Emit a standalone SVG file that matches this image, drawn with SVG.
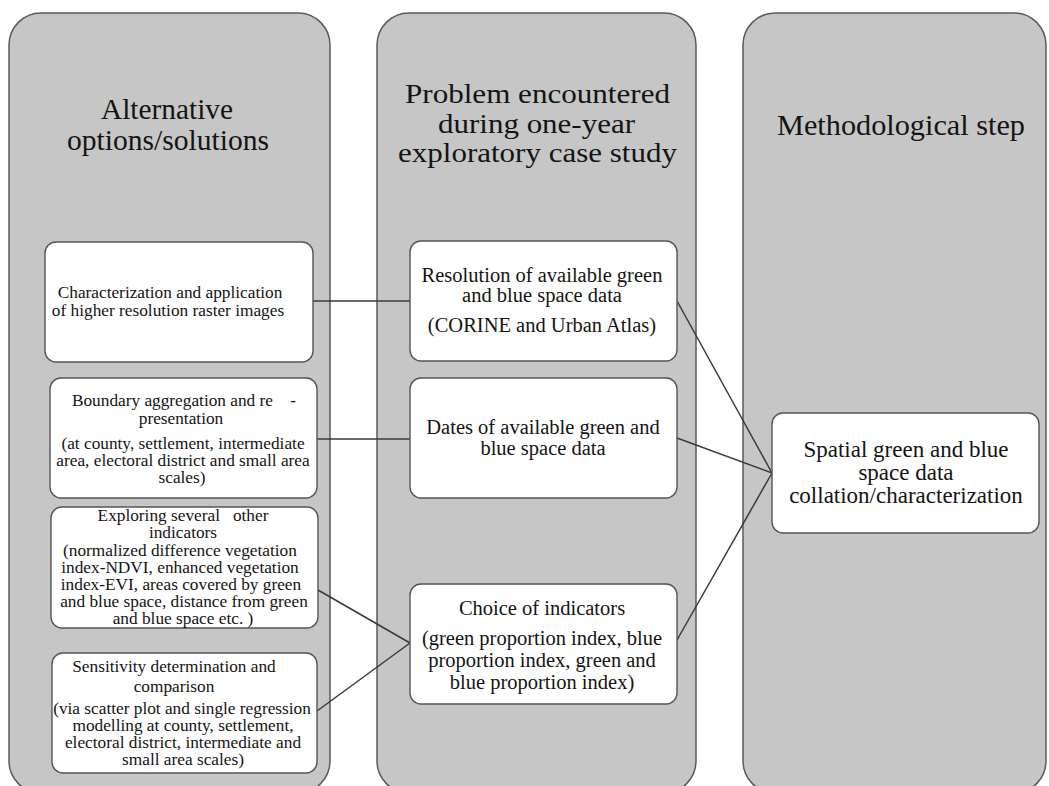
<svg xmlns="http://www.w3.org/2000/svg" width="1049" height="786" viewBox="0 0 1049 786">
<style>
.panel{fill:#c6c6c6;stroke:#5a5a5a;stroke-width:1.5}
.box{fill:#ffffff;stroke:#555555;stroke-width:1.4}
text{font-family:"Liberation Serif","Times New Roman",serif;fill:#141414;text-anchor:middle}
.h{font-size:29px}
.hm{font-size:28px}
.s{font-size:17.3px}
.m{font-size:20.5px}
.r{font-size:23px}
.conn{stroke:#3a3a3a;stroke-width:1.5;fill:none}
</style>
<rect width="1049" height="786" fill="#ffffff"/>
<g id="panel-left">
<rect class="panel" x="9" y="13" width="321" height="780" rx="32" ry="32"/>
<text class="h" x="167" y="119" textLength="132" lengthAdjust="spacingAndGlyphs">Alternative</text>
<text class="h" x="168" y="150" textLength="202" lengthAdjust="spacingAndGlyphs">options/solutions</text>
</g>
<g id="panel-middle">
<rect class="panel" x="377" y="13" width="319" height="780" rx="32" ry="32"/>
<text class="hm" x="537.5" y="103" textLength="265" lengthAdjust="spacingAndGlyphs">Problem encountered</text>
<text class="hm" x="536.5" y="133" textLength="197" lengthAdjust="spacingAndGlyphs">during one-year</text>
<text class="hm" x="537.5" y="162" textLength="279" lengthAdjust="spacingAndGlyphs">exploratory case study</text>
</g>
<g id="panel-right">
<rect class="panel" x="743" y="13" width="303" height="780" rx="32" ry="32"/>
<text class="h" x="901" y="135" textLength="248" lengthAdjust="spacingAndGlyphs">Methodological step</text>
</g>
<g id="connectors">
<line class="conn" x1="313" y1="301" x2="410" y2="301"/>
<line class="conn" x1="317" y1="439" x2="410" y2="439"/>
<line class="conn" x1="318" y1="590" x2="410" y2="643"/>
<line class="conn" x1="317" y1="711" x2="410" y2="643"/>
<line class="conn" x1="677" y1="301" x2="772" y2="473"/>
<line class="conn" x1="677" y1="438" x2="772" y2="473"/>
<line class="conn" x1="677" y1="640" x2="772" y2="473"/>
</g>
<g id="box-characterization">
<rect class="box" x="45" y="242" width="268" height="120" rx="11"/>
<text class="s" x="170" y="298">Characterization and application</text>
<text class="s" x="168" y="316">of higher resolution raster images</text>
</g>
<g id="box-boundary">
<rect class="box" x="50" y="378" width="267" height="120" rx="11"/>
<text class="s" x="184" y="406" xml:space="preserve">Boundary aggregation and re    -</text>
<text class="s" x="181" y="424">presentation</text>
<text class="s" x="183" y="449">(at county, settlement, intermediate</text>
<text class="s" x="183" y="466">area, electoral district and small area</text>
<text class="s" x="182" y="483">scales)</text>
</g>
<g id="box-exploring">
<rect class="box" x="51" y="507" width="267" height="121" rx="11"/>
<text class="s" x="183" y="521" xml:space="preserve">Exploring several   other</text>
<text class="s" x="183" y="538">indicators</text>
<text class="s" x="180" y="556">(normalized difference vegetation</text>
<text class="s" x="180" y="573">index-NDVI, enhanced vegetation</text>
<text class="s" x="181" y="590">index-EVI, areas covered by green</text>
<text class="s" x="184" y="607">and blue space, distance from green</text>
<text class="s" x="183" y="624">and blue space etc. )</text>
</g>
<g id="box-sensitivity">
<rect class="box" x="52" y="653" width="265" height="120" rx="11"/>
<text class="s" x="174" y="672">Sensitivity determination and</text>
<text class="s" x="174" y="692">comparison</text>
<text class="s" x="182" y="714">(via scatter plot and single regression</text>
<text class="s" x="183" y="731">modelling at county, settlement,</text>
<text class="s" x="183" y="748">electoral district, intermediate and</text>
<text class="s" x="183" y="765">small area scales)</text>
</g>
<g id="box-resolution">
<rect class="box" x="410" y="241" width="267" height="120" rx="11"/>
<text class="m" x="542" y="282">Resolution of available green</text>
<text class="m" x="542" y="302">and blue space data</text>
<text class="m" x="542" y="332">(CORINE and Urban Atlas)</text>
</g>
<g id="box-dates">
<rect class="box" x="410" y="378" width="267" height="120" rx="11"/>
<text class="m" x="543" y="434">Dates of available green and</text>
<text class="m" x="543" y="455">blue space data</text>
</g>
<g id="box-choice">
<rect class="box" x="410" y="584" width="267" height="120" rx="11"/>
<text class="m" x="542" y="615">Choice of indicators</text>
<text class="m" x="542" y="645">(green proportion index, blue</text>
<text class="m" x="542" y="667">proportion index, green and</text>
<text class="m" x="542" y="689">blue proportion index)</text>
</g>
<g id="box-spatial">
<rect class="box" x="772" y="413" width="267" height="120" rx="11"/>
<text class="r" x="906" y="457">Spatial green and blue</text>
<text class="r" x="906" y="480">space data</text>
<text class="r" x="906" y="503">collation/characterization</text>
</g>
</svg>
